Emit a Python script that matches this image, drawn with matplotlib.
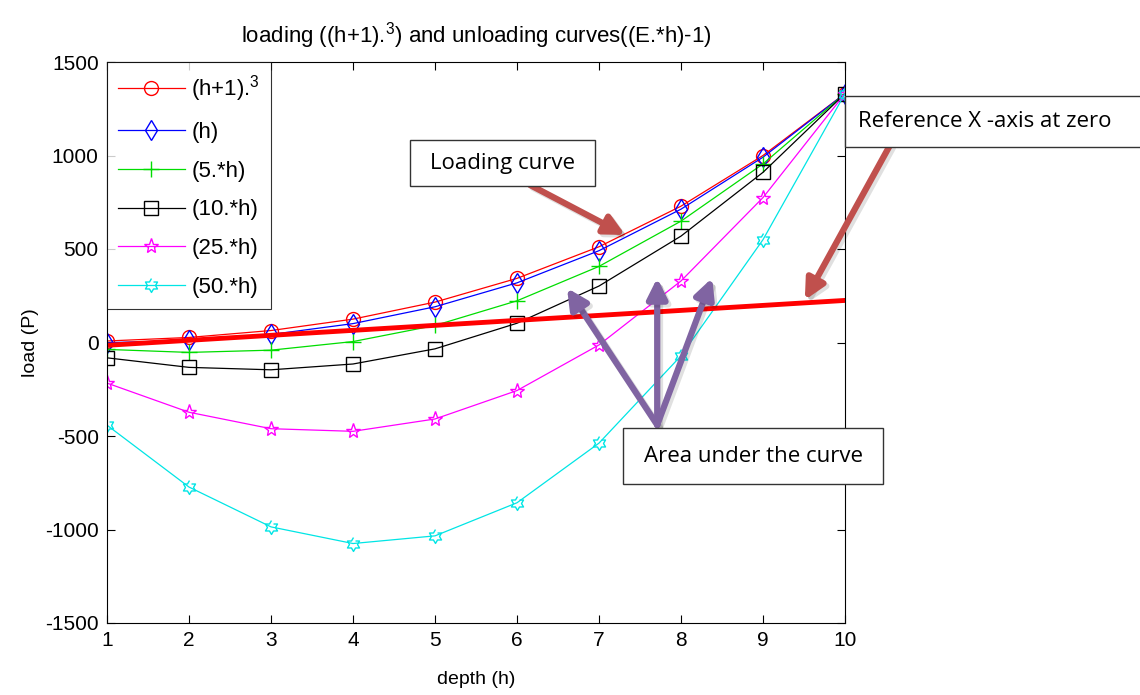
import numpy as np
import matplotlib.pyplot as plt
from matplotlib.path import Path
from matplotlib.patches import Rectangle
from matplotlib import font_manager
import matplotlib.patheffects as pe

# pick a narrow Arial-like face if present
main_font = 'Liberation Sans'
try:
    font_manager.findfont('Liberation Sans Narrow', fallback_to_default=False)
    main_font = 'Liberation Sans Narrow'
except Exception:
    pass
plt.rcParams['font.family'] = [main_font, 'DejaVu Sans']
plt.rcParams['axes.unicode_minus'] = False
plt.rcParams['mathtext.fontset'] = 'custom'
plt.rcParams['mathtext.rm'] = main_font

# depth values
h = [1, 2, 3, 4, 5, 6, 7, 8, 9, 10]

# load values
load_h1_3 = [8, 27, 64, 125, 216, 343, 512, 729, 1000, 1331]
load_1 = [-1, 11, 43, 101, 191, 319, 491, 713, 991, 1331]
load_5 = [-37, -53, -41, 5, 91, 223, 407, 649, 955, 1331]
load_10 = [-82, -133, -146, -115, -34, 103, 302, 569, 910, 1331]
load_25 = [-217, -373, -461, -475, -409, -257, -13, 329, 775, 1331]
load_50 = [-442, -773, -986, -1075, -1034, -857, -538, -71, 550, 1331]

labels = ['(h+1).$^3$', '(h)', '(5.*h)', '(10.*h)', '(25.*h)', '(50.*h)']

# reference line
ref_x = [1, 10]
ref_y = [-15, 225]

# hexagram marker
ang = np.linspace(0, 2*np.pi, 13)[:-1] + np.pi/2
rad = np.array([1, 0.58] * 6)
hexagram = Path(np.column_stack([rad*np.cos(ang), rad*np.sin(ang)]))

W, H = 1140, 695
fig = plt.figure(figsize=(W/100, H/100), dpi=100)
ax = fig.add_axes([107/W, 1 - 623/H, 738/W, 561/H])

series = [load_h1_3, load_1, load_5, load_10, load_25, load_50]
colors = ['#ff0000', '#0000ff', '#00dd00', '#000000', '#ff00ff', '#00e5e5']
markers = ['o', 'd', '+', 's', '*', hexagram]
sizes = [10, 10, 12, 10, 11, 10]
for y, c, m, s, lab in zip(series, colors, markers, sizes, labels):
    ax.plot(h, y, color=c, marker=m, markersize=s, markerfacecolor='none',
            markeredgecolor=c, lw=0.9, label=lab)

ax.plot(ref_x, ref_y, color='#ff0000', lw=3.5)

ax.set_xlim(1, 10)
ax.set_ylim(-1500, 1500)
ax.set_xticks(range(1, 11))
ax.set_yticks(range(-1500, 1501, 500))
ax.tick_params(direction='in', top=True, right=True, labelsize=15, length=6, pad=6)
ax.set_xlabel('depth (h)', fontsize=14, labelpad=15)
ax.set_ylabel('load (P)', fontsize=14, labelpad=4)
ax.set_title('loading ((h+1).$^3$) and unloading curves((E.*h)-1)', fontsize=16, pad=14)

leg = ax.legend(loc='upper left', fontsize=16, handlelength=3.0, borderaxespad=0,
                frameon=True, fancybox=False, edgecolor='black', labelspacing=0.8,
                handletextpad=0.3, borderpad=0.5)
leg.get_frame().set_linewidth(0.8)

shadow = [pe.SimpleLineShadow(offset=(2, -2), alpha=0.12), pe.Normal()]
brown = '#c0504d'
purple = '#8064a2'
astyle = '-|>,head_length=1.2,head_width=0.6'

ax.annotate('', xy=(7.32, 575), xytext=(6.16, 842),
            arrowprops=dict(arrowstyle=astyle, color=brown, lw=4.5,
                            shrinkA=0, shrinkB=0, path_effects=shadow))
ax.annotate('', xy=(9.51, 227), xytext=(10.55, 1056), annotation_clip=False,
            arrowprops=dict(arrowstyle=astyle, color=brown, lw=4.5,
                            shrinkA=0, shrinkB=0, path_effects=shadow))
for tip in [(6.61, 291), (7.71, 345), (8.38, 345)]:
    ax.annotate('', xy=tip, xytext=(7.71, -441),
                arrowprops=dict(arrowstyle=astyle, color=purple, lw=4.5,
                                shrinkA=0, shrinkB=0, path_effects=shadow))

# callout boxes (figure pixels, top-left origin)
boxes = [((410, 140, 595, 186), 'Loading curve', 502),
         ((845, 96, 1150, 147), 'Reference X -axis at zero', 985),
         ((623, 428, 883, 484), 'Area under the curve', 753)]
for (x0, y0, x1, y1), txt, cx in boxes:
    fig.patches.append(Rectangle((x0/W, 1 - y1/H), (x1 - x0)/W, (y1 - y0)/H,
                                 transform=fig.transFigure, fc='white', ec='#333333',
                                 lw=1, zorder=5))
    fig.text(cx/W, 1 - (y0 + y1)/2/H, txt, fontsize=16, family=['Open Sans'],
             ha='center', va='center', zorder=6)

fig.savefig('out.png', dpi=100)
